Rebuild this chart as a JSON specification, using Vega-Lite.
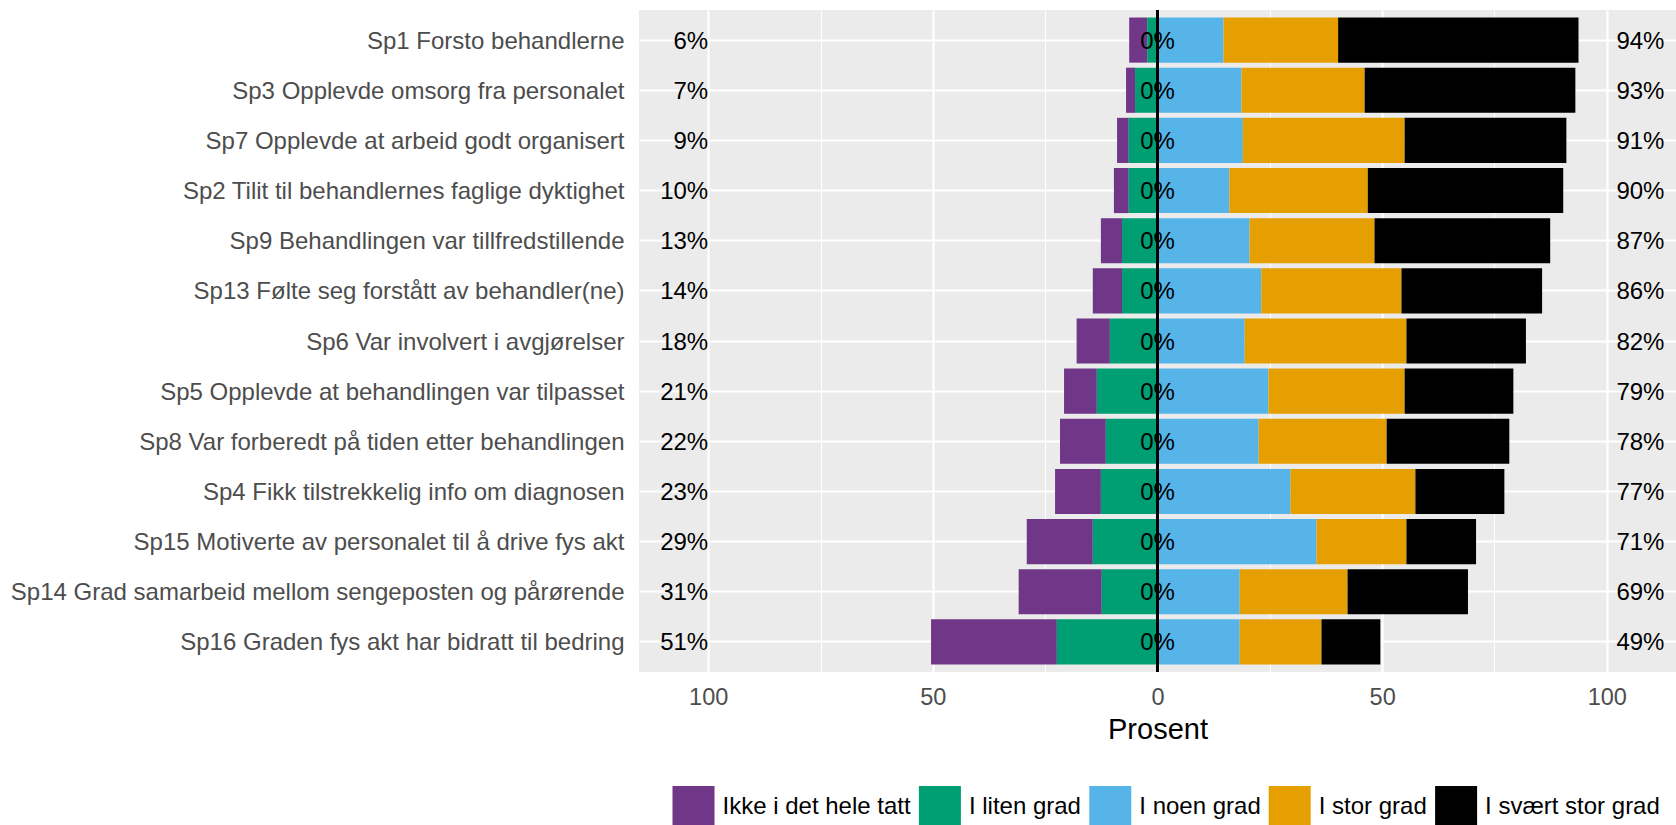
{
  "$schema": "https://vega.github.io/schema/vega-lite/v6.json",
  "width": 1037,
  "height": 662,
  "autosize": "none",
  "padding": {"left": 639, "top": 10, "right": 0, "bottom": 153},
  "background": "white",
  "config": {
    "font": "Liberation Sans",
    "view": {"fill": "#EBEBEB", "stroke": null}
  },
  "datasets": {
    "likert": [
      {"item": "Sp1 Forsto behandlerne", "level": 1, "svar": "Ikke i det hele tatt", "pct": -4.0},
      {"item": "Sp1 Forsto behandlerne", "level": 2, "svar": "I liten grad", "pct": -2.3},
      {"item": "Sp1 Forsto behandlerne", "level": 3, "svar": "I noen grad", "pct": 14.7},
      {"item": "Sp1 Forsto behandlerne", "level": 4, "svar": "I stor grad", "pct": 25.5},
      {"item": "Sp1 Forsto behandlerne", "level": 5, "svar": "I svært stor grad", "pct": 53.5},
      {"item": "Sp3 Opplevde omsorg fra personalet", "level": 1, "svar": "Ikke i det hele tatt", "pct": -2.0},
      {"item": "Sp3 Opplevde omsorg fra personalet", "level": 2, "svar": "I liten grad", "pct": -5.0},
      {"item": "Sp3 Opplevde omsorg fra personalet", "level": 3, "svar": "I noen grad", "pct": 18.7},
      {"item": "Sp3 Opplevde omsorg fra personalet", "level": 4, "svar": "I stor grad", "pct": 27.4},
      {"item": "Sp3 Opplevde omsorg fra personalet", "level": 5, "svar": "I svært stor grad", "pct": 46.9},
      {"item": "Sp7 Opplevde at arbeid godt organisert", "level": 1, "svar": "Ikke i det hele tatt", "pct": -2.6},
      {"item": "Sp7 Opplevde at arbeid godt organisert", "level": 2, "svar": "I liten grad", "pct": -6.4},
      {"item": "Sp7 Opplevde at arbeid godt organisert", "level": 3, "svar": "I noen grad", "pct": 19.0},
      {"item": "Sp7 Opplevde at arbeid godt organisert", "level": 4, "svar": "I stor grad", "pct": 36.0},
      {"item": "Sp7 Opplevde at arbeid godt organisert", "level": 5, "svar": "I svært stor grad", "pct": 36.0},
      {"item": "Sp2 Tilit til behandlernes faglige dyktighet", "level": 1, "svar": "Ikke i det hele tatt", "pct": -3.3},
      {"item": "Sp2 Tilit til behandlernes faglige dyktighet", "level": 2, "svar": "I liten grad", "pct": -6.4},
      {"item": "Sp2 Tilit til behandlernes faglige dyktighet", "level": 3, "svar": "I noen grad", "pct": 16.0},
      {"item": "Sp2 Tilit til behandlernes faglige dyktighet", "level": 4, "svar": "I stor grad", "pct": 30.8},
      {"item": "Sp2 Tilit til behandlernes faglige dyktighet", "level": 5, "svar": "I svært stor grad", "pct": 43.5},
      {"item": "Sp9 Behandlingen var tillfredstillende", "level": 1, "svar": "Ikke i det hele tatt", "pct": -4.7},
      {"item": "Sp9 Behandlingen var tillfredstillende", "level": 2, "svar": "I liten grad", "pct": -7.9},
      {"item": "Sp9 Behandlingen var tillfredstillende", "level": 3, "svar": "I noen grad", "pct": 20.5},
      {"item": "Sp9 Behandlingen var tillfredstillende", "level": 4, "svar": "I stor grad", "pct": 27.8},
      {"item": "Sp9 Behandlingen var tillfredstillende", "level": 5, "svar": "I svært stor grad", "pct": 39.1},
      {"item": "Sp13 Følte seg forstått av behandler(ne)", "level": 1, "svar": "Ikke i det hele tatt", "pct": -6.5},
      {"item": "Sp13 Følte seg forstått av behandler(ne)", "level": 2, "svar": "I liten grad", "pct": -7.9},
      {"item": "Sp13 Følte seg forstått av behandler(ne)", "level": 3, "svar": "I noen grad", "pct": 23.1},
      {"item": "Sp13 Følte seg forstått av behandler(ne)", "level": 4, "svar": "I stor grad", "pct": 31.2},
      {"item": "Sp13 Følte seg forstått av behandler(ne)", "level": 5, "svar": "I svært stor grad", "pct": 31.3},
      {"item": "Sp6 Var involvert i avgjørelser", "level": 1, "svar": "Ikke i det hele tatt", "pct": -7.4},
      {"item": "Sp6 Var involvert i avgjørelser", "level": 2, "svar": "I liten grad", "pct": -10.6},
      {"item": "Sp6 Var involvert i avgjørelser", "level": 3, "svar": "I noen grad", "pct": 19.4},
      {"item": "Sp6 Var involvert i avgjørelser", "level": 4, "svar": "I stor grad", "pct": 36.0},
      {"item": "Sp6 Var involvert i avgjørelser", "level": 5, "svar": "I svært stor grad", "pct": 26.6},
      {"item": "Sp5 Opplevde at behandlingen var tilpasset", "level": 1, "svar": "Ikke i det hele tatt", "pct": -7.3},
      {"item": "Sp5 Opplevde at behandlingen var tilpasset", "level": 2, "svar": "I liten grad", "pct": -13.5},
      {"item": "Sp5 Opplevde at behandlingen var tilpasset", "level": 3, "svar": "I noen grad", "pct": 24.7},
      {"item": "Sp5 Opplevde at behandlingen var tilpasset", "level": 4, "svar": "I stor grad", "pct": 30.3},
      {"item": "Sp5 Opplevde at behandlingen var tilpasset", "level": 5, "svar": "I svært stor grad", "pct": 24.2},
      {"item": "Sp8 Var forberedt på tiden etter behandlingen", "level": 1, "svar": "Ikke i det hele tatt", "pct": -10.2},
      {"item": "Sp8 Var forberedt på tiden etter behandlingen", "level": 2, "svar": "I liten grad", "pct": -11.5},
      {"item": "Sp8 Var forberedt på tiden etter behandlingen", "level": 3, "svar": "I noen grad", "pct": 22.5},
      {"item": "Sp8 Var forberedt på tiden etter behandlingen", "level": 4, "svar": "I stor grad", "pct": 28.5},
      {"item": "Sp8 Var forberedt på tiden etter behandlingen", "level": 5, "svar": "I svært stor grad", "pct": 27.3},
      {"item": "Sp4 Fikk tilstrekkelig info om diagnosen", "level": 1, "svar": "Ikke i det hele tatt", "pct": -10.2},
      {"item": "Sp4 Fikk tilstrekkelig info om diagnosen", "level": 2, "svar": "I liten grad", "pct": -12.6},
      {"item": "Sp4 Fikk tilstrekkelig info om diagnosen", "level": 3, "svar": "I noen grad", "pct": 29.6},
      {"item": "Sp4 Fikk tilstrekkelig info om diagnosen", "level": 4, "svar": "I stor grad", "pct": 27.8},
      {"item": "Sp4 Fikk tilstrekkelig info om diagnosen", "level": 5, "svar": "I svært stor grad", "pct": 19.8},
      {"item": "Sp15 Motiverte av personalet til å drive fys akt", "level": 1, "svar": "Ikke i det hele tatt", "pct": -14.7},
      {"item": "Sp15 Motiverte av personalet til å drive fys akt", "level": 2, "svar": "I liten grad", "pct": -14.4},
      {"item": "Sp15 Motiverte av personalet til å drive fys akt", "level": 3, "svar": "I noen grad", "pct": 35.4},
      {"item": "Sp15 Motiverte av personalet til å drive fys akt", "level": 4, "svar": "I stor grad", "pct": 20.0},
      {"item": "Sp15 Motiverte av personalet til å drive fys akt", "level": 5, "svar": "I svært stor grad", "pct": 15.5},
      {"item": "Sp14 Grad samarbeid mellom sengeposten og pårørende", "level": 1, "svar": "Ikke i det hele tatt", "pct": -18.5},
      {"item": "Sp14 Grad samarbeid mellom sengeposten og pårørende", "level": 2, "svar": "I liten grad", "pct": -12.4},
      {"item": "Sp14 Grad samarbeid mellom sengeposten og pårørende", "level": 3, "svar": "I noen grad", "pct": 18.3},
      {"item": "Sp14 Grad samarbeid mellom sengeposten og pårørende", "level": 4, "svar": "I stor grad", "pct": 24.0},
      {"item": "Sp14 Grad samarbeid mellom sengeposten og pårørende", "level": 5, "svar": "I svært stor grad", "pct": 26.8},
      {"item": "Sp16 Graden fys akt har bidratt til bedring", "level": 1, "svar": "Ikke i det hele tatt", "pct": -28.0},
      {"item": "Sp16 Graden fys akt har bidratt til bedring", "level": 2, "svar": "I liten grad", "pct": -22.4},
      {"item": "Sp16 Graden fys akt har bidratt til bedring", "level": 3, "svar": "I noen grad", "pct": 18.3},
      {"item": "Sp16 Graden fys akt har bidratt til bedring", "level": 4, "svar": "I stor grad", "pct": 18.2},
      {"item": "Sp16 Graden fys akt har bidratt til bedring", "level": 5, "svar": "I svært stor grad", "pct": 13.1}
    ],
    "totals": [
      {"item": "Sp1 Forsto behandlerne", "low": "6%", "neutral": "0%", "high": "94%"},
      {"item": "Sp3 Opplevde omsorg fra personalet", "low": "7%", "neutral": "0%", "high": "93%"},
      {"item": "Sp7 Opplevde at arbeid godt organisert", "low": "9%", "neutral": "0%", "high": "91%"},
      {"item": "Sp2 Tilit til behandlernes faglige dyktighet", "low": "10%", "neutral": "0%", "high": "90%"},
      {"item": "Sp9 Behandlingen var tillfredstillende", "low": "13%", "neutral": "0%", "high": "87%"},
      {"item": "Sp13 Følte seg forstått av behandler(ne)", "low": "14%", "neutral": "0%", "high": "86%"},
      {"item": "Sp6 Var involvert i avgjørelser", "low": "18%", "neutral": "0%", "high": "82%"},
      {"item": "Sp5 Opplevde at behandlingen var tilpasset", "low": "21%", "neutral": "0%", "high": "79%"},
      {"item": "Sp8 Var forberedt på tiden etter behandlingen", "low": "22%", "neutral": "0%", "high": "78%"},
      {"item": "Sp4 Fikk tilstrekkelig info om diagnosen", "low": "23%", "neutral": "0%", "high": "77%"},
      {"item": "Sp15 Motiverte av personalet til å drive fys akt", "low": "29%", "neutral": "0%", "high": "71%"},
      {"item": "Sp14 Grad samarbeid mellom sengeposten og pårørende", "low": "31%", "neutral": "0%", "high": "69%"},
      {"item": "Sp16 Graden fys akt har bidratt til bedring", "low": "51%", "neutral": "0%", "high": "49%"}
    ]
  },
  "layer": [
    {
      "data": {"name": "likert"},
      "transform": [{"filter": "datum.pct < 0"}],
      "mark": {"type": "bar", "strokeWidth": 0},
      "encoding": {
        "y": {
          "field": "item",
          "type": "nominal",
          "sort": null,
          "scale": {"paddingInner": 0.1, "paddingOuter": 0.15},
          "axis": {
            "title": null,
            "grid": true,
            "gridColor": "white",
            "gridWidth": 2.2,
            "bandPosition": 0.5,
            "domain": false,
            "ticks": false,
            "tickSize": 0,
            "labelPadding": 15,
            "labelOffset": 1.5,
            "labelFontSize": 24,
            "labelColor": "#4D4D4D",
            "labelLimit": 0
          }
        },
        "x": {
          "field": "pct",
          "type": "quantitative",
          "stack": "zero",
          "scale": {"domain": [-115.4, 115.4], "nice": false, "zero": false},
          "axis": {
            "values": [-100, -75, -50, -25, 0, 25, 50, 75, 100],
            "labelExpr": "datum.value % 50 === 0 ? format(abs(datum.value), 'd') : ''",
            "grid": true,
            "gridColor": "white",
            "gridWidth": {"condition": {"test": "datum.value % 50 === 0", "value": 2.2}, "value": 1.1},
            "domain": false,
            "ticks": false,
            "tickSize": 0,
            "labelPadding": 13,
            "labelFontSize": 23.5,
            "labelColor": "#4D4D4D",
            "labelFlush": false,
            "labelOverlap": false,
            "title": "Prosent",
            "titleFontSize": 29,
            "titleFontWeight": "normal",
            "titleColor": "black",
            "titleBaseline": "alphabetic",
            "titleY": 66
          }
        },
        "color": {
          "field": "svar",
          "type": "nominal",
          "scale": {
            "domain": ["Ikke i det hele tatt", "I liten grad", "I noen grad", "I stor grad", "I svært stor grad"],
            "range": ["#703688", "#009E73", "#56B4E9", "#E69F00", "#000000"]
          },
          "legend": {
            "orient": "none",
            "legendX": 33.5,
            "legendY": 776,
            "direction": "horizontal",
            "title": null,
            "symbolType": "square",
            "symbolSize": 1764,
            "symbolStrokeWidth": 0,
            "symbolOpacity": 1,
            "labelFontSize": 24,
            "labelColor": "black",
            "labelOffset": 8,
            "labelLimit": 0,
            "columnPadding": 7.4,
            "padding": 0
          }
        },
        "order": {"field": "level", "type": "quantitative", "sort": "descending"}
      }
    },
    {
      "data": {"name": "likert"},
      "transform": [{"filter": "datum.pct > 0"}],
      "mark": {"type": "bar", "strokeWidth": 0},
      "encoding": {
        "y": {"field": "item", "type": "nominal", "sort": null},
        "x": {"field": "pct", "type": "quantitative", "stack": "zero"},
        "color": {"field": "svar", "type": "nominal"},
        "order": {"field": "level", "type": "quantitative", "sort": "ascending"}
      }
    },
    {
      "data": {"name": "totals"},
      "mark": {"type": "rule", "color": "black", "strokeWidth": 2.5},
      "encoding": {"x": {"datum": 0}}
    },
    {
      "data": {"name": "totals"},
      "mark": {"type": "text", "align": "right", "baseline": "middle", "fontSize": 24, "color": "black", "dy": 1.5},
      "encoding": {
        "y": {"field": "item", "type": "nominal", "sort": null},
        "x": {"datum": -100},
        "text": {"field": "low"}
      }
    },
    {
      "data": {"name": "totals"},
      "mark": {"type": "text", "align": "center", "baseline": "middle", "fontSize": 24, "color": "black", "dy": 1.5},
      "encoding": {
        "y": {"field": "item", "type": "nominal", "sort": null},
        "x": {"datum": 0},
        "text": {"field": "neutral"}
      }
    },
    {
      "data": {"name": "totals"},
      "mark": {"type": "text", "align": "left", "baseline": "middle", "fontSize": 24, "color": "black", "dx": 9.6, "dy": 1.5},
      "encoding": {
        "y": {"field": "item", "type": "nominal", "sort": null},
        "x": {"datum": 100},
        "text": {"field": "high"}
      }
    }
  ]
}
